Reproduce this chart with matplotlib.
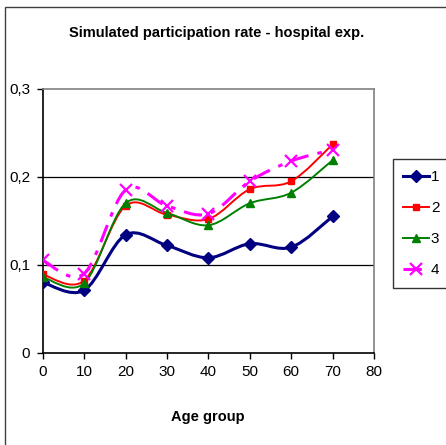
import matplotlib
matplotlib.use("Agg")
import matplotlib.pyplot as plt
from matplotlib.path import Path
from matplotlib.patches import PathPatch, Rectangle
from matplotlib.lines import Line2D
from matplotlib.ticker import FuncFormatter

plt.rcParams['font.family'] = ['Liberation Sans Narrow', 'Liberation Sans', 'DejaVu Sans']

# data
age = [0, 10, 20, 30, 40, 50, 60, 70]
s1 = [0.080, 0.071, 0.134, 0.122, 0.108, 0.124, 0.120, 0.155]
s2 = [0.089, 0.082, 0.167, 0.157, 0.152, 0.186, 0.195, 0.237]
s3 = [0.086, 0.079, 0.170, 0.159, 0.145, 0.170, 0.182, 0.219]
s4 = [0.105, 0.090, 0.185, 0.167, 0.158, 0.195, 0.218, 0.231]
names = ['1', '2', '3', '4']


def smooth_path(x, y):
	# excel-like smoothed line: cubic bezier through the points
	pts = list(zip(x, y))
	n = len(pts)
	verts = [pts[0]]
	codes = [Path.MOVETO]
	for i in range(n - 1):
		p0 = pts[max(i - 1, 0)]
		p1 = pts[i]
		p2 = pts[i + 1]
		p3 = pts[min(i + 2, n - 1)]
		c1 = (p1[0] + (p2[0] - p0[0]) / 6.0, p1[1] + (p2[1] - p0[1]) / 6.0)
		c2 = (p2[0] - (p3[0] - p1[0]) / 6.0, p2[1] - (p3[1] - p1[1]) / 6.0)
		verts += [c1, c2, p2]
		codes += [Path.CURVE4] * 3
	return Path(verts, codes)


fig = plt.figure(figsize=(4.46, 4.45), dpi=100)
ax = fig.add_axes([42.7 / 446, 1 - 352.7 / 445, (374 - 42.7) / 446, (352.7 - 89) / 445])

# outer chart border
fig.patches.append(Rectangle((5 / 446, -0.1), 1.1, 1 - 7 / 445 + 0.1, transform=fig.transFigure,
	fill=False, edgecolor='#404040', linewidth=1.0))

styles = [
	(s1, '#000080', 'D', 6.5, 2.2, '-'),
	(s2, '#ff0000', 's', 5, 1.4, '-'),
	(s3, '#008000', '^', 6, 1.4, '-'),
	(s4, '#ff00ff', 'x', 9, 2.2, (0, (6, 3, 1.5, 3))),
]

handles = []
for (ys, col, mk, ms, lw, ls), nm in zip(styles, names):
	patch = PathPatch(smooth_path(age, ys), facecolor='none', edgecolor=col, linewidth=lw, linestyle=ls, zorder=3)
	ax.add_patch(patch)
	ax.plot(age, ys, linestyle='none', marker=mk, markersize=ms, color=col,
		markeredgewidth=1.6 if mk == 'x' else 1, zorder=4)
	handles.append(Line2D([], [], color=col, linewidth=lw, linestyle=ls, marker=mk,
		markersize=ms, markeredgewidth=1.6 if mk == 'x' else 1))

ax.set_xlim(0, 80)
ax.set_ylim(0, 0.3)
ax.set_xticks(range(0, 81, 10))
ax.set_yticks([0, 0.1, 0.2, 0.3])
ax.yaxis.set_major_formatter(FuncFormatter(lambda v, p: ('%g' % round(v, 2)).replace('.', ',')))
ax.tick_params(direction='out', length=4, width=1, labelsize=11, pad=5)

for v in [0.1, 0.2]:
	ax.axhline(v, color='black', linewidth=0.9, zorder=1)

ax.spines['top'].set_color('#808080')
ax.spines['right'].set_color('#808080')
for s in ax.spines.values():
	s.set_linewidth(1.2)

fig.text(217 / 446, 1 - 33 / 445, 'Simulated participation rate - hospital exp.', ha='center', va='center',
	fontsize=10.5, fontweight='bold')
fig.text(208 / 446, 1 - 417 / 445, 'Age group', ha='center', va='center', fontsize=10.5, fontweight='bold')

leg = fig.legend(handles, names, loc='upper left', bbox_to_anchor=(392.7 / 446, 1 - 159.3 / 445),
	fontsize=11, frameon=True, fancybox=False, edgecolor='black', handlelength=1.7,
	handletextpad=0.1, labelspacing=1.12, borderpad=0.7, borderaxespad=0)
leg.get_frame().set_linewidth(1.0)

fig.savefig('out.png', dpi=100)
